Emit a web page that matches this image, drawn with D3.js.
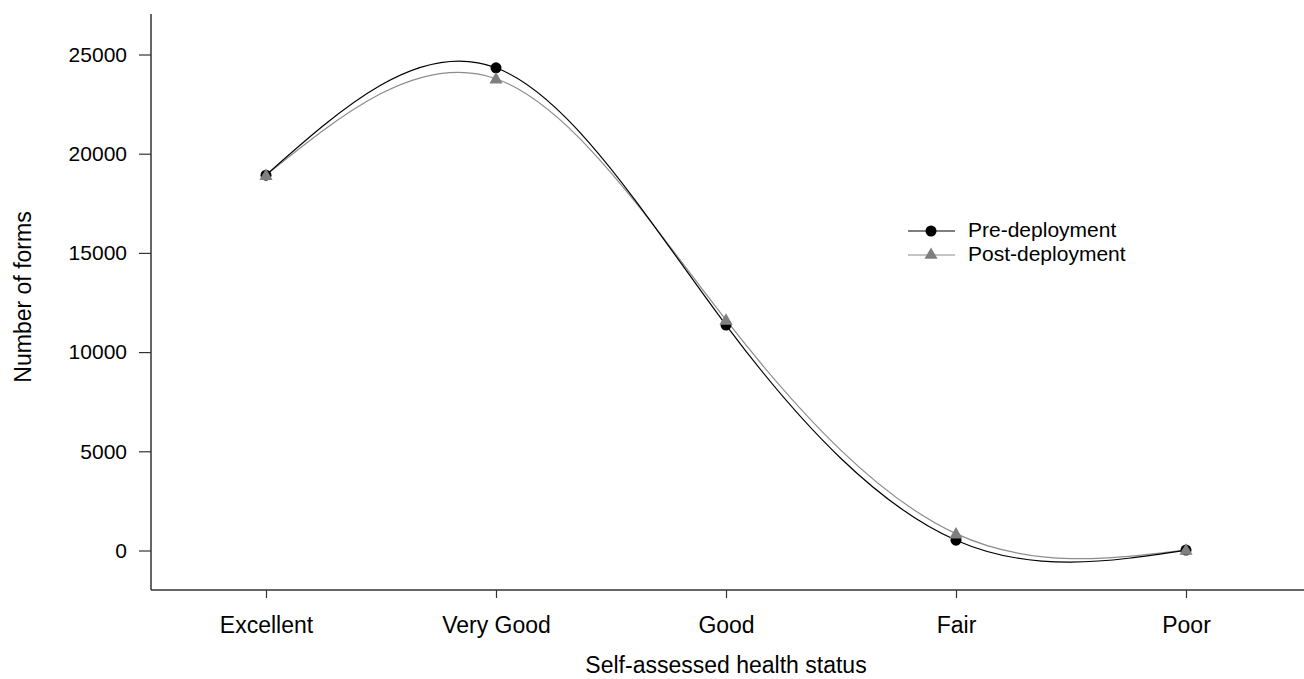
<!DOCTYPE html>
<html>
<head>
<meta charset="utf-8">
<script src="https://cdn.jsdelivr.net/npm/d3@7"></script>
<style>
  html, body { margin: 0; padding: 0; background: #fff; }
  svg { display: block; font-family: "Liberation Sans", Arial, sans-serif; }
</style>
</head>
<body>
<svg id="chart" width="1304" height="679"></svg>
<script>
// Self-assessed health status on health forms, before and after deployment
const categories = ["Excellent", "Very Good", "Good", "Fair", "Poor"];
const preDeployment = [18920, 24330, 11360, 520, 20];
const postDeployment = [18920, 23780, 11620, 850, 30];
const yTicks = [0, 5000, 10000, 15000, 20000, 25000];

(function () {
  const svg = d3.select("#chart");
  const plotLeft = 151, plotRight = 1301, plotTop = 14, plotBottom = 590;

  const x = d3.scalePoint().domain(categories).range([plotLeft, plotRight]).padding(0.5);
  const y = d3.scaleLinear().domain([0, 25000]).range([550.5, 54.5]);

  const axisColor = "#333";
  const fontFamily = "'Liberation Sans', Arial, sans-serif";

  // y axis
  const yAxis = svg.append("g")
    .attr("transform", `translate(${plotLeft},0)`)
    .call(d3.axisLeft(y).tickValues(yTicks).tickFormat(d3.format("d"))
      .tickSize(12).tickPadding(12).tickSizeOuter(0));
  yAxis.select(".domain").remove();
  yAxis.selectAll(".tick text").style("font-size", "21px");
  svg.append("line").attr("x1", plotLeft).attr("x2", plotLeft).attr("y1", plotTop).attr("y2", plotBottom)
    .attr("stroke", axisColor).attr("stroke-width", 1.5);

  // x axis
  const xAxis = svg.append("g")
    .attr("transform", `translate(0,${plotBottom})`)
    .call(d3.axisBottom(x).tickSize(8).tickSizeOuter(0));
  xAxis.select(".domain").remove();
  xAxis.selectAll(".tick text").attr("y", 43).attr("dy", null).style("font-size", "23px");
  svg.append("line").attr("x1", plotLeft).attr("x2", 1304).attr("y1", plotBottom).attr("y2", plotBottom)
    .attr("stroke", axisColor).attr("stroke-width", 1.5);

  svg.selectAll(".tick line").attr("stroke", axisColor).attr("stroke-width", 1.2);
  svg.selectAll(".tick text").attr("fill", "#000").style("font-family", fontFamily);

  // axis titles
  svg.append("text").attr("x", 726).attr("y", 673).attr("text-anchor", "middle")
    .style("font-size", "23px").text("Self-assessed health status");
  svg.append("text").attr("transform", "translate(31,297) rotate(-90)").attr("text-anchor", "middle")
    .style("font-size", "23px").text("Number of forms");

  // smoothed series lines
  const line = d3.line().x((d, i) => x(categories[i])).y(d => y(d)).curve(d3.curveNatural);
  svg.append("path").datum(postDeployment).attr("d", line)
    .attr("fill", "none").attr("stroke", "#8c8c8c").attr("stroke-width", 1.2);
  svg.append("path").datum(preDeployment).attr("d", line)
    .attr("fill", "none").attr("stroke", "#000").attr("stroke-width", 1.2);

  // markers
  const tri = d3.symbol().type(d3.symbolTriangle).size(75);
  svg.selectAll(".pre").data(preDeployment).join("circle")
    .attr("cx", (d, i) => x(categories[i])).attr("cy", d => y(d)).attr("r", 5.5)
    .attr("fill", "#000");
  svg.selectAll(".post").data(postDeployment).join("path")
    .attr("d", tri)
    .attr("transform", (d, i) => `translate(${x(categories[i])},${y(d) + 1})`)
    .attr("fill", "#808080");

  // legend
  const legend = svg.append("g");
  const items = [
    { name: "Pre-deployment", color: "#000", marker: "circle", yPos: 231 },
    { name: "Post-deployment", color: "#8c8c8c", marker: "tri", yPos: 255 }
  ];
  items.forEach(it => {
    legend.append("line").attr("x1", 908).attr("x2", 955).attr("y1", it.yPos).attr("y2", it.yPos)
      .attr("stroke", it.color).attr("stroke-width", 1.2);
    if (it.marker === "circle") {
      legend.append("circle").attr("cx", 931).attr("cy", it.yPos).attr("r", 5.5).attr("fill", "#000");
    } else {
      legend.append("path").attr("d", tri).attr("transform", `translate(931,${it.yPos})`).attr("fill", "#808080");
    }
    legend.append("text").attr("x", 968).attr("y", it.yPos + 6).style("font-size", "21px").text(it.name);
  });
})();
</script>
</body>
</html>
